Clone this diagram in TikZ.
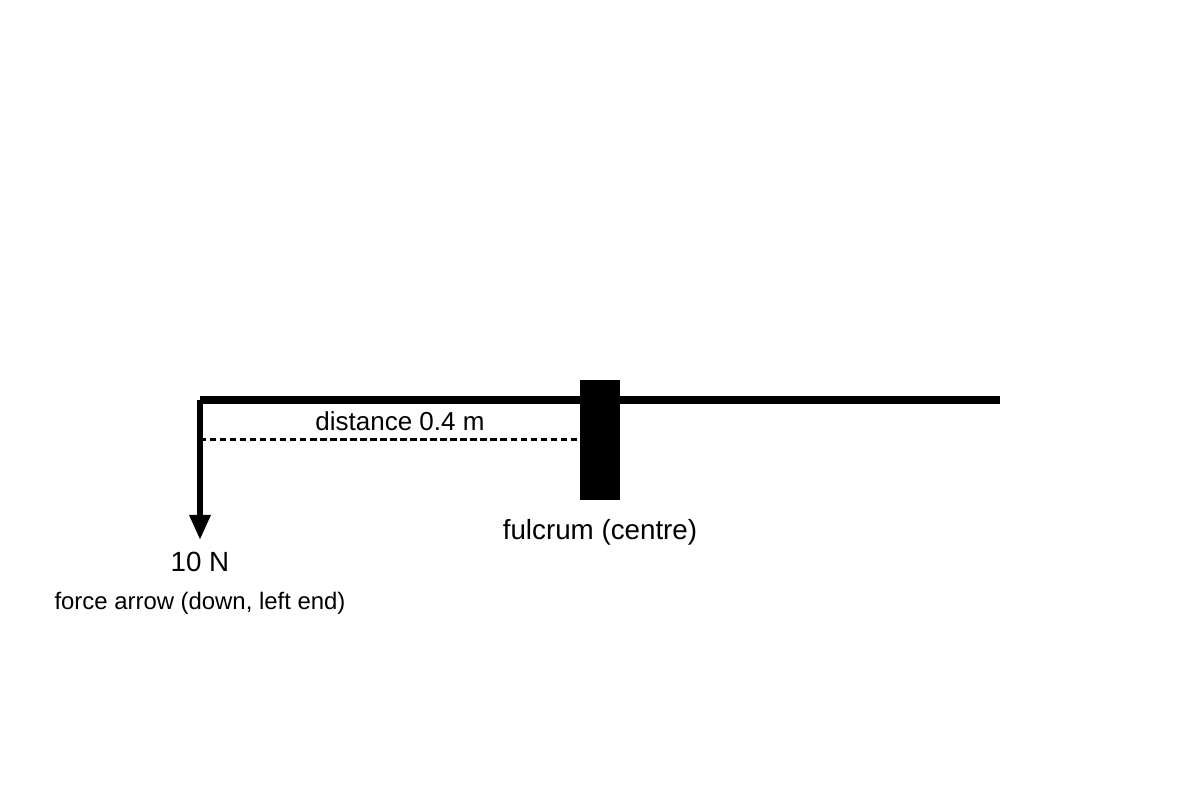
\documentclass[tikz,border=0pt]{standalone}
\usepackage{fontspec}
\setmainfont{Liberation Sans}
\usetikzlibrary{arrows.meta}
\tikzset{
  beam/.style={draw=black, line width=2.27pt},
  force/.style={draw=black, line width=1.7pt, -{Triangle[width=0.2cm,length=0.25cm]}},
  dist/.style={draw=black, line width=0.85pt, dash pattern=on 1.8pt off 1.05pt},
  pivot/.style={rectangle, fill=black, inner sep=0pt, minimum width=0.4cm, minimum height=1.2cm},
  lab/.style={inner sep=0pt, anchor=base, font=\fontsize{7.9pt}{9pt}\selectfont},
  smalllab/.style={inner sep=0pt, anchor=base, font=\fontsize{6.8pt}{8pt}\selectfont},
}
\begin{document}
\begin{tikzpicture}
  \useasboundingbox (0,0) rectangle (12,8);
  \coordinate (L) at (2,4);
  \coordinate (R) at (10,4);
  \coordinate (tip) at (2,2.6);
  \coordinate (D) at (2,3.6);

  \draw[beam] (L)--(R);
  \node[pivot] (fulcrum) at (6,3.6) {};
  \draw[force] (L)--(tip);
  \draw[dist] (D)--(fulcrum.west);

  \node[lab, font=\fontsize{7.4pt}{9pt}\selectfont] (distlab) at (4,3.69) {distance 0.4 m};
  \node[lab] (forcelab) at (2,2.28) {10 N};
  \node[smalllab] (forcenote) at (2,1.9) {force arrow (down, left end)};
  \node[lab] (fulcrumlab) at (6,2.6) {fulcrum (centre)};
\end{tikzpicture}
\end{document}
